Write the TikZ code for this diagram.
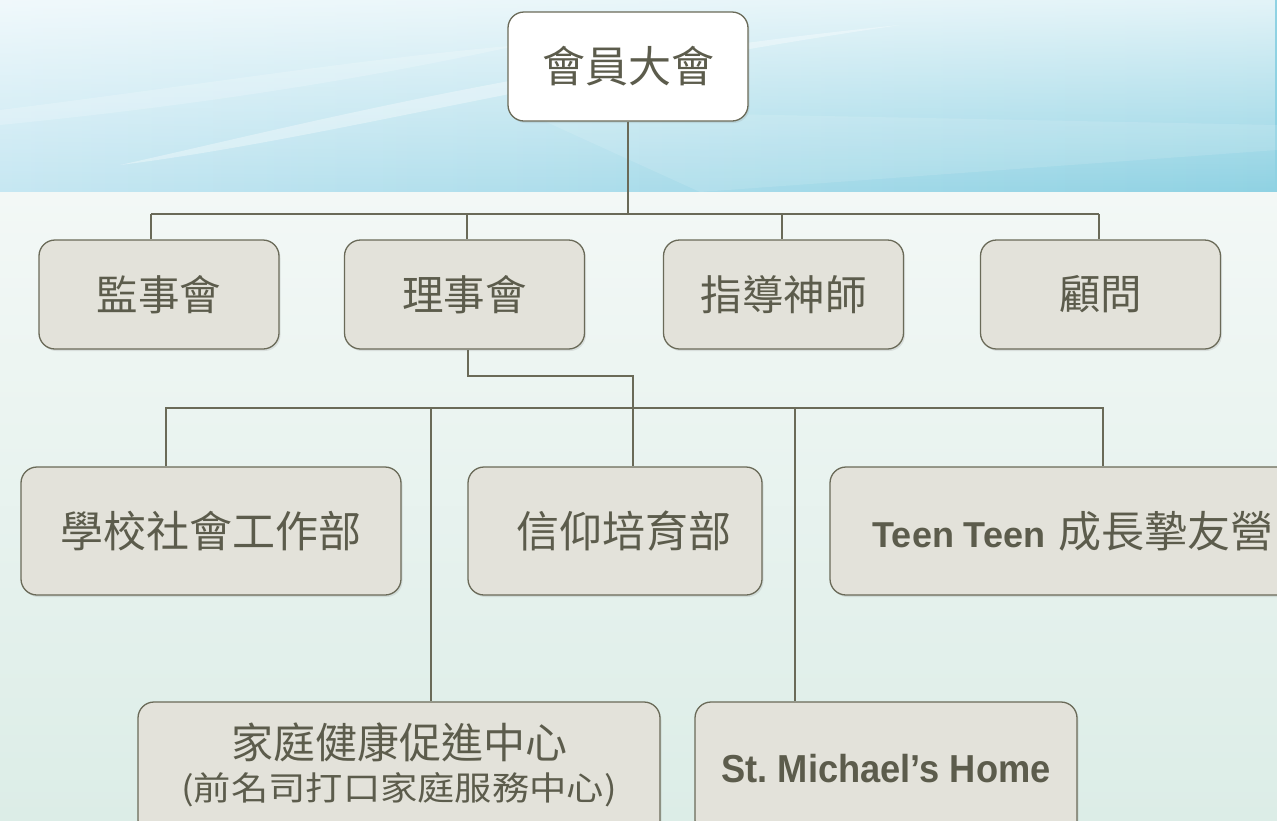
\documentclass[tikz,border=0pt]{standalone}
\usepackage{fontspec}
\setmainfont{Liberation Sans}
\newfontfamily\cjk{Noto Sans CJK TC}
\newfontfamily\cjkwide[FakeStretch=1.13]{Noto Sans CJK TC}
\usetikzlibrary{shadows,fadings,calc}
\definecolor{txt}{HTML}{5C5C4C}
\definecolor{edge}{HTML}{6A6A58}
\definecolor{boxfill}{HTML}{E3E2DA}
\definecolor{skyL}{HTML}{C6E7F2}
\definecolor{skyR}{HTML}{8FD2E3}
\definecolor{lowT}{HTML}{F3F8F6}
\definecolor{lowB}{HTML}{DCEDE7}
\begin{document}
\begin{tikzpicture}[x=1pt,y=-1pt,
  box/.style={draw=edge, line width=1.3pt, rounded corners=16pt, fill=boxfill, text=txt,
    drop shadow={opacity=0.18, shadow xshift=1.5pt, shadow yshift=-2pt},
    inner sep=0pt, align=center},
  link/.style={draw=edge, line width=1.6pt},
  zh/.style={font=\cjk\fontsize{43}{48}\selectfont},
  zhs/.style={font=\cjk\fontsize{41.5}{46}\selectfont}]
\useasboundingbox (0,0) rectangle (1277,820);
\clip (0,0) rectangle (1277,820);
% background
\fill[left color=skyL, right color=skyR] (0,0) rectangle (1277,192);
\fill[white, path fading=south, fill opacity=0.75] (0,0) rectangle (1277,192);
\fill[white, opacity=0.35] (120,165) .. controls (300,125) and (550,60) .. (900,25) .. controls (560,75) and (320,140) .. (120,165) -- cycle;
\fill[white, opacity=0.2] (0,110) .. controls (200,85) and (350,60) .. (520,45) .. controls (360,80) and (200,105) .. (0,125) -- cycle;
\fill[white, opacity=0.12] (700,192) -- (520,110) -- (1277,125) -- (1277,150) -- cycle;
\fill[top color=lowT, bottom color=lowB] (0,192) rectangle (1277,820);
% nodes
\node[box, fill=white, minimum width=240pt, minimum height=109pt, zh] (gm) at (628,66.5) {會員大會};
\node[box, minimum width=240pt, minimum height=109pt, zhs] (sup) at (159,294.5) {監事會};
\node[box, minimum width=240pt, minimum height=109pt, zhs] (board) at (464.5,294.5) {理事會};
\node[box, minimum width=240pt, minimum height=109pt, zhs] (chap) at (783.5,294.5) {指導神師};
\node[box, minimum width=240pt, minimum height=109pt, zhs] (adv) at (1100.5,294.5) {顧問};
\node[box, minimum width=380pt, minimum height=128pt, zh] (school) at (211,531) {學校社會工作部};
\node[box, minimum width=294pt, minimum height=128pt, zh] (faith) at (615,531) {\hspace*{18pt}信仰培育部};
\node[box, minimum width=486pt, minimum height=128pt] (teen) at (1073,531)
  {{\bfseries\fontsize{36}{40}\selectfont Teen Teen}\hspace{13pt}{\cjk\fontsize{43}{46}\selectfont 成長摯友營}};
\node[box, minimum width=522pt, minimum height=134pt] (family) at (399,769)
  {\raisebox{-5pt}[0pt][0pt]{\fontsize{42}{42}\selectfont\begin{tabular}{@{}c@{}}\cjk 家庭健康促進中心\\\cjkwide\fontsize{33}{42}\selectfont (前名司打口家庭服務中心)\end{tabular}}};
\node[box, minimum width=382pt, minimum height=134pt] (stm) at (886,769)
  {\scalebox{0.93}[1]{\bfseries\fontsize{39}{42}\selectfont St.\ Michael’s Home}};
% connectors
\coordinate (t1) at (151,214);
\coordinate (t2) at (467,214);
\coordinate (t3) at (782,214);
\coordinate (t4) at (1099,214);
\draw[link] (gm.south) -- (gm.south |- t1);
\draw[link] (t1) -- (t4);
\draw[link] (t1) -- (t1 |- sup.north);
\draw[link] (t2) -- (t2 |- board.north);
\draw[link] (t3) -- (t3 |- chap.north);
\draw[link] (t4) -- (t4 |- adv.north);
\coordinate (b1) at (468,376);
\coordinate (b2) at (633,376);
\draw[link] (b1 |- board.south) -- (b1) -- (b2) -- (b2 |- faith.north);
\coordinate (u1) at (166,408);
\coordinate (u2) at (431,408);
\coordinate (u3) at (795,408);
\coordinate (u4) at (1103,408);
\draw[link] (u1 |- school.north) -- (u1) -- (u4) -- (u4 |- teen.north);
\draw[link] (u2) -- (u2 |- family.north);
\draw[link] (u3) -- (u3 |- stm.north);
\end{tikzpicture}
\end{document}
